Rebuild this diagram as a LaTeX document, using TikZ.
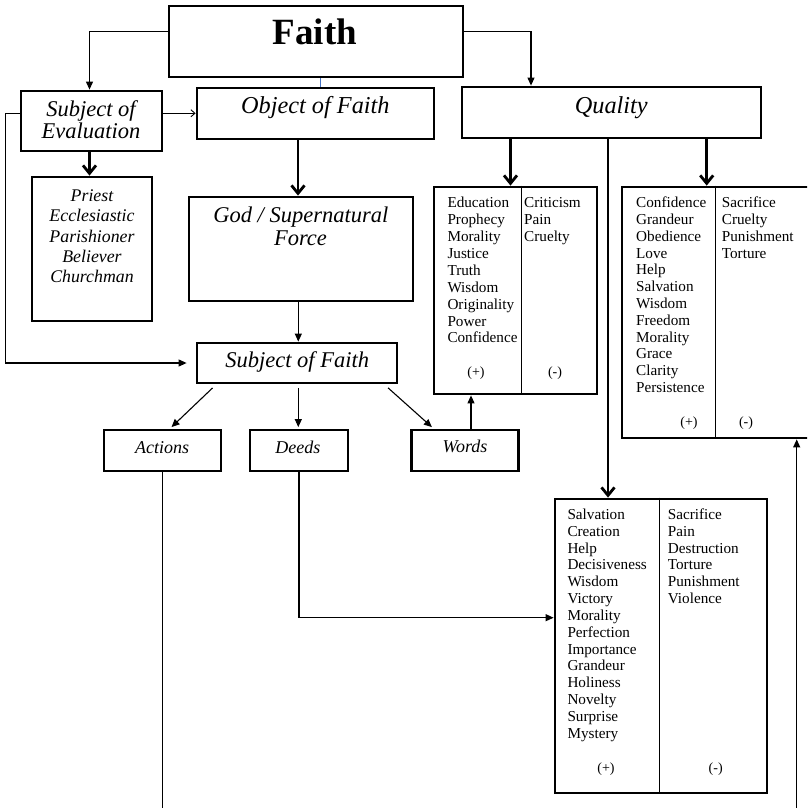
\documentclass[tikz,border=0pt]{standalone}
\usepackage{fontspec}
\setmainfont{Liberation Serif}
\usepackage{xcolor}
\usetikzlibrary{arrows.meta,positioning,calc}
\definecolor{fbblue}{HTML}{4472C4}
\tikzset{
  bx/.style  = {rectangle, draw=black, line width=2.8pt, fill=white, inner sep=0pt},
  hd/.style  = {font=\fontsize{24.3}{26}\selectfont\itshape, anchor=base, inner sep=0pt},
  hdm/.style = {font=\fontsize{22.5}{24}\selectfont\itshape, anchor=base, inner sep=0pt},
  hds/.style = {font=\fontsize{18}{20}\selectfont\itshape, anchor=base, inner sep=0pt},
  itm/.style = {font=\fontsize{15.2}{17}\selectfont, anchor=base west, inner sep=0pt},
  sgn/.style = {font=\fontsize{14}{16}\selectfont, anchor=base, inner sep=0pt},
  ln/.style  = {-{Triangle[length=8pt,width=7pt]}, line width=1.1pt},
  lnb/.style = {-{Straight Barb[length=8pt,width=13pt]}, line width=2.8pt},
  dv/.style  = {line width=0.9pt},
}

\begin{document}
\begin{tikzpicture}[x=1pt,y=-1pt]
  \useasboundingbox (0,0) rectangle (807,808);
  \clip (0,0) rectangle (807,808);
  % boxes
  \node[bx,minimum width=294,minimum height=71] (faith) at (316,41.5) {};
  \node[bx,minimum width=141,minimum height=60] (subev) at (91.5,121) {};
  \node[bx,minimum width=237,minimum height=51] (obj) at (315.5,113.5) {};
  \node[bx,minimum width=299,minimum height=51] (qual) at (611.5,112.5) {};
  \node[bx,minimum width=120,minimum height=144] (evl) at (92,249) {};
  \node[bx,minimum width=224,minimum height=104] (god) at (301,249) {};
  \node[bx,minimum width=200,minimum height=40] (subf) at (297,363) {};
  \node[bx,minimum width=117,minimum height=41] (act) at (162.5,450.5) {};
  \node[bx,minimum width=98,minimum height=41] (deed) at (299,450.5) {};
  \node[bx,minimum width=107,minimum height=41] (word) at (465,450.5) {};
  \node[bx,minimum width=163,minimum height=207] (qa) at (515.5,290.5) {};
  \node[bx,minimum width=210,minimum height=251] (qb) at (727,312.5) {};
  \node[bx,minimum width=212,minimum height=294] (qc) at (661,646) {};
  \draw[dv] ([xshift=6pt]qa.north) -- ([xshift=6pt]qa.south);
  \draw[dv] ([xshift=-12pt]qb.north) -- ([xshift=-12pt]qb.south);
  \draw[dv] ([xshift=-1.7pt]qc.north) -- ([xshift=-1.7pt]qc.south);
  \coordinate (actend) at (162.5,815);
  \coordinate (qbin) at (796.7,815);

  % connectors
  \draw[ln] ([yshift=9.8pt]faith.west) -| ([xshift=-2pt]subev.north);
  \draw[ln] ([yshift=9.8pt]faith.east) -| ([xshift=-80.5pt]qual.north);
  \draw[fbblue,line width=0.8pt] ([xshift=4.7pt]faith.south) -- ([xshift=4.7pt]faith.south |- obj.north);
  \draw[-{Straight Barb[length=4pt,width=7pt]},line width=0.9pt] ([yshift=7.7pt]subev.east) -- ([yshift=7.7pt]subev.east -| obj.west);
  \draw[ln] ([yshift=7.7pt]subev.west) -- ++(-14,0) |- ([xshift=-9pt]subf.west);
  \draw[lnb] ([xshift=-2pt]subev.south) -- ([xshift=-2pt]subev.south |- evl.north);
  \draw[lnb] ([xshift=-17.5pt]obj.south) -- ([xshift=-17.5pt]obj.south |- god.north);
  \draw[ln] ([xshift=-2.7pt]god.south) -- ([xshift=-2.7pt]god.south |- subf.north);
  \draw[ln] ([xshift=17pt,yshift=-3.5pt]subf.south west) -- ([xshift=9pt,yshift=1.5pt]act.north);
  \draw[ln,shorten <=3.5pt,shorten >=1.5pt] ([xshift=1.3pt]subf.south) -- ([xshift=1.3pt]subf.south |- deed.north);
  \draw[ln] ([xshift=-10.3pt,yshift=-3.5pt]subf.south east) -- ([xshift=21.8pt,yshift=1.5pt]word.north west);
  \draw[ln] ([xshift=6pt]word.north) -- ([xshift=6pt]word.north |- qa.south);
  \draw[lnb] ([xshift=-101pt]qual.south) -- ([xshift=-101pt]qual.south |- qa.north);
  \draw[lnb] ([xshift=95.2pt]qual.south) -- ([xshift=95.2pt]qual.south |- qb.north);
  \draw[lnb] ([xshift=-3.5pt]qual.south) -- ([xshift=-3.5pt]qual.south |- qc.north);
  \draw[ln] (deed.south) |- ([yshift=28.3pt]qc.west);
  \draw[line width=1.1pt] (act.south) -- (act.south |- actend);
  \draw[ln] (qbin) -- (qbin |- qb.south);

  % texts
  \node[font=\fontsize{37}{40}\selectfont\bfseries,anchor=base,inner sep=0pt] (faithtxt) at (315,45) {Faith};
  \node[hd] (objtxt) at (315.3,113.3) {Object of Faith};
  \node[hd] (qualtxt) at (611.3,113.3) {Quality};
  \node[hdm] (subevtxta) at (91,116.5) {Subject of};
  \node[hdm] (subevtxtb) at (91,138.5) {Evaluation};
  \node[hdm] (godtxta) at (300.8,222) {God / Supernatural};
  \node[hdm] (godtxtb) at (300.5,245) {Force};
  \node[hdm] (subftxt) at (297.2,367.3) {Subject of Faith};
  \node[hds] (acttxt) at (162.2,453.3) {Actions};
  \node[hds] (deedtxt) at (297.8,453.3) {Deeds};
  \node[hds] (wordtxt) at (465,452.8) {Words};
  \foreach \w [count=\i from 0] in {Priest,Ecclesiastic,Parishioner,Believer,Churchman}{
    \node[hds,font=\fontsize{17.8}{20}\selectfont\itshape] (evl\i) at (92,{201.7+20.15*\i}) {\w};
  }
  \foreach \w [count=\i from 0] in {Education,Prophecy,Morality,Justice,Truth,Wisdom,Originality,Power,Confidence}{
    \node[itm] (qap\i) at (447.3,{207.7+16.9*\i}) {\w};
  }
  \foreach \w [count=\i from 0] in {Criticism,Pain,Cruelty}{
    \node[itm] (qan\i) at (524,{207.7+16.9*\i}) {\w};
  }
  \foreach \w [count=\i from 0] in {Confidence,Grandeur,Obedience,Love,Help,Salvation,Wisdom,Freedom,Morality,Grace,Clarity,Persistence}{
    \node[itm] (qbp\i) at (636,{207.7+16.8*\i}) {\w};
  }
  \foreach \w [count=\i from 0] in {Sacrifice,Cruelty,Punishment,Torture}{
    \node[itm] (qbn\i) at (721.7,{207.7+16.8*\i}) {\w};
  }
  \foreach \w [count=\i from 0] in {Salvation,Creation,Help,Decisiveness,Wisdom,Victory,Morality,Perfection,Importance,Grandeur,Holiness,Novelty,Surprise,Mystery}{
    \node[itm] (qcp\i) at (567.3,{519.3+16.85*\i}) {\w};
  }
  \foreach \w [count=\i from 0] in {Sacrifice,Pain,Destruction,Torture,Punishment,Violence}{
    \node[itm] (qcn\i) at (667.7,{519.3+16.85*\i}) {\w};
  }
  \node[sgn] (qaplus) at (476,376.7) {(+)};
  \node[sgn] (qaminus) at (555,376.7) {(-)};
  \node[sgn] (qbplus) at (689,426.7) {(+)};
  \node[sgn] (qbminus) at (746,426.7) {(-)};
  \node[sgn] (qcplus) at (606,772.7) {(+)};
  \node[sgn] (qcminus) at (715.7,772.7) {(-)};
\end{tikzpicture}
\end{document}
